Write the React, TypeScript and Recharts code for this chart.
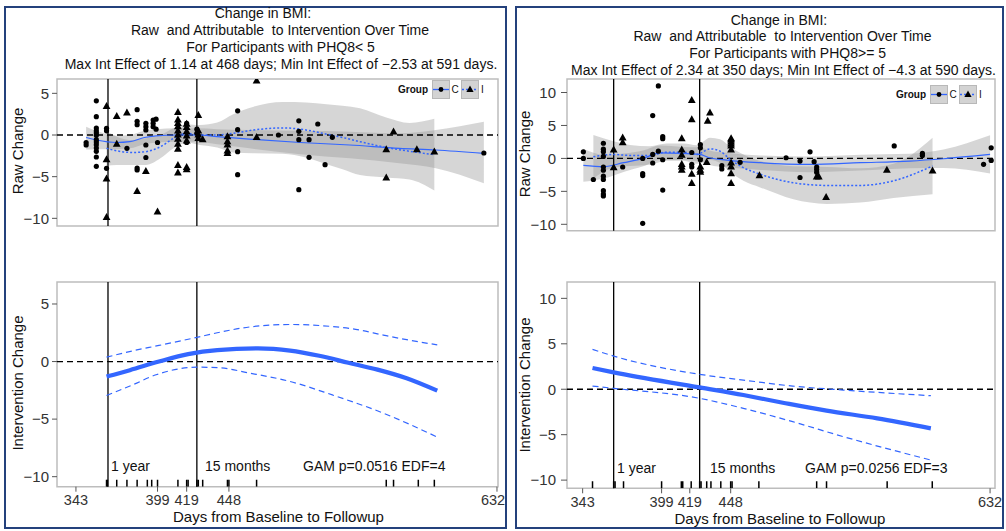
import React from 'react';
import { ComposedChart, Line, Area, Scatter, XAxis, YAxis, ReferenceLine, ReferenceArea } from 'recharts';

const FONT = '"Liberation Sans", Arial, Helvetica, sans-serif';
const BLUE = '#3366ff';
const NAVY = '#24417c';

// ---------------- Left panel: PHQ8 < 5 ----------------
const L_cPoints: [number, number][] = [
  [350, -0.9], [350, -1.2],
  [357, 4.1], [357, 2.2], [357, 0.84], [357, 0.5], [357, 0.24], [357, -0.04], [357, -0.56], [357, -0.84], [357, -1.16], [357, -1.56], [357, -1.96], [357, -2.64], [357, -3.76],
  [364, 0.8], [364, 0.5], [364, -4.0],
  [378, -1.6],
  [385, 3.04], [385, 1.64], [385, 1.24], [385, -3.96], [385, -4.2],
  [391, 1.4], [391, 1.0], [391, 0.6], [391, -1.2], [391, -2.7],
  [396, 1.8], [396, 1.4], [396, 1.0],
  [398, 1.9], [398, 0.7], [399, -0.9],
  [419, 1.4], [419, -0.9],
  [426, 0.7], [426, 0.2],
  [454, 2.9], [454, 0.64], [454, -2.0], [454, -4.76],
  [482, 0],
  [496, 1.7], [496, 0.44], [496, -0.56], [496, -6.56],
  [503, -0.56], [503, -2.68],
  [509, 1.32],
  [514, -3.56],
  [519, -0.28],
  [623, -2.16],
];
const L_iPoints: [number, number][] = [
  [364, 3.44], [364, -2.96], [364, -5.28], [364, -9.88],
  [371, 2.24], [371, -1.1],
  [378, 2.64],
  [385, -6.76],
  [391, -4.36],
  [399, -9.24],
  [413, 2.7], [413, 1.8], [413, 1.4], [413, 1.0], [413, 0.5], [413, 0], [413, -0.5], [413, -1.1], [413, -1.7], [413, -3.64], [413, -4.56],
  [419, 1.3], [419, 0.9], [419, 0.4], [419, -0.1], [419, -0.7], [419, -3.88], [419, -4.16],
  [427, 2.36], [427, 0.5], [427, 0], [427, -0.4],
  [430, -0.56],
  [447, -0.2], [447, -0.8], [447, -1.2], [447, -1.9], [447, -2.2],
  [467, 6.5], [467, -0.3],
  [556, -1.76], [556, -5.16],
  [561, 0.36],
  [577, -1.76],
  [589, -2.04],
];
const L_cLineDays = [350, 357, 371, 380, 390, 398, 412, 426, 440, 462, 497, 531, 565, 590, 623];
const L_cLineVals = [-0.3, -0.6, -0.9, -0.8, -0.3, -0.1, 0, 0, -0.2, -0.5, -0.9, -1.2, -1.6, -1.8, -2.2];
const L_cBandLo = [-1.75, -1.7, -1.7, -1.6, -1.1, -0.9, -0.8, -0.8, -1.1, -1.6, -2.3, -2.8, -3.4, -4.0, -5.8];
const L_cBandHi = [1.0, 0.5, -0.1, 0.0, 0.5, 0.7, 0.8, 0.8, 0.7, 0.6, 0.5, 0.4, 0.2, 0.6, 1.6];
const L_iLineDays = [364, 371, 382, 391, 401, 410, 419, 428, 440, 451, 465, 485, 501, 515, 526, 538, 556, 572, 589];
const L_iLineVals = [-1.6, -1.9, -2.1, -2.0, -1.4, -0.4, 0.2, 0.0, 0.0, 0.2, 0.6, 0.85, 0.6, 0.1, -0.3, -0.8, -1.5, -1.95, -2.36];
const L_iBandLo = [-3.7, -3.6, -3.6, -3.6, -2.8, -1.6, -0.9, -1.2, -1.5, -2.1, -2.2, -2.25, -2.7, -3.5, -4.1, -4.8, -5.1, -5.35, -6.66];
const L_iBandHi = [0.5, -0.2, -0.6, -0.4, 0.0, 0.8, 1.3, 1.2, 1.5, 2.5, 3.4, 3.95, 3.9, 3.7, 3.5, 3.2, 2.1, 1.45, 1.94];

const L_effDays = [364, 380, 400, 420, 440, 468, 490, 510, 530, 550, 570, 591];
const L_effVals = [-1.3, -0.75, 0.0, 0.65, 1.0, 1.14, 0.95, 0.5, -0.1, -0.7, -1.45, -2.53];
const L_upDays = [364, 382, 400, 426, 440, 462, 490, 519, 535, 554, 570, 591];
const L_upVals = [0.38, 0.93, 1.4, 2.1, 2.5, 3.0, 3.22, 3.04, 2.8, 2.3, 1.9, 1.45];
const L_loDays = [364, 382, 398, 426, 440, 462, 490, 519, 554, 591];
const L_loVals = [-2.95, -2.02, -1.15, -0.49, -0.52, -1.0, -1.73, -2.9, -4.48, -6.56];
const L_rug = [364, 364.6, 371, 378, 385, 392, 395, 399, 413, 419, 420, 426, 427, 430, 447, 448, 467, 556, 561, 578, 589];

// ---------------- Right panel: PHQ8 >= 5 ----------------
const R_cPoints: [number, number][] = [
  [343.5, 1.0], [343.5, 0],
  [350.6, -3.2],
  [357.7, 2.3], [357.7, 1.4], [357.7, 1.0], [357.7, 0.3], [357.7, -1.3], [357.7, -1.8], [357.7, -2.7], [357.7, -3.2], [357.7, -4.9], [357.7, -5.4], [357.7, -5.7],
  [371.4, -1.3],
  [385.6, 0], [385.6, -2.3], [385.6, -2.6], [385.6, -9.85],
  [392.7, 6.5], [392.7, 0.6], [392.7, -0.7],
  [396.7, 11.0], [396.7, 1.1],
  [399.8, 3.3], [399.8, 3.0], [399.8, -0.2], [399.8, -4.8],
  [420.4, 0.9], [420.4, -0.9], [420.4, -1.3],
  [426.5, 2.1], [426.5, 1.6], [426.5, -0.2],
  [441.7, -1.1], [441.7, -1.6],
  [454.7, -0.6],
  [487.3, 0.1],
  [497.2, -0.4], [497.2, -2.9],
  [504.3, 1.0],
  [507.2, -0.5],
  [509, -1.3], [509, -1.7], [509, -2.1],
  [564, 1.9],
  [584, 0.75], [584, 0.45],
  [627.4, -0.9],
  [632.8, 1.6], [632.8, -0.3],
];
const R_iPoints: [number, number][] = [
  [365, 1.3], [365, -1.4],
  [371.4, 3.1], [371.4, 2.4],
  [413.3, 3.0], [413.3, 1.3], [413.3, 0.5], [413.3, -0.9], [413.3, -1.3], [413.3, -1.8],
  [420.4, 8.8], [420.4, 5.9], [420.4, -2.4], [420.4, -3.8],
  [426.5, -1.3], [426.5, -1.8], [426.5, -2.1],
  [431.7, 5.65], [433.3, 6.9], [431, -0.6],
  [448.3, 3.0], [448.3, 2.8], [448.3, 2.5], [448.3, 2.2], [448.3, 1.9], [448.3, 1.3], [448.3, -0.7], [448.3, -1.3], [448.3, -2.3], [448.3, -3.8],
  [468.4, -2.6],
  [509, -2.8], [510.5, -2.8],
  [515.7, -5.9],
  [558.8, -1.8],
  [591.2, -1.9],
];
const R_cLineDays = [343.5, 358, 372, 386, 398, 414, 426, 433, 445, 469, 504, 540, 575, 599, 632];
const R_cLineVals = [-1.05, -1.25, -0.65, 0, 0.85, 0.75, 0.6, 0.1, -0.25, -0.65, -0.9, -0.65, -0.4, -0.05, 0.6];
const R_cBandLo = [-3.55, -3.05, -2.05, -1.2, -0.25, -0.25, -0.5, -1.0, -1.35, -1.75, -2.1, -1.85, -1.5, -1.45, -2.3];
const R_cBandHi = [1.45, 0.55, 0.75, 1.2, 1.95, 1.75, 1.7, 1.2, 0.85, 0.45, 0.3, 0.55, 0.7, 1.35, 3.5];
const R_iLineDays = [350.6, 364.8, 376.6, 390.8, 402.6, 414.4, 423.9, 433.4, 440.5, 447.6, 457, 468.9, 492.5, 516.2, 539.8, 563.5, 591.2];
const R_iLineVals = [0.25, 0.6, 0.45, 0.45, 0.95, 0.95, 0.6, 1.45, 1.1, -0.15, -1.4, -2.4, -3.7, -4.1, -4.1, -3.4, -1.15];
const R_iBandLo = [-3.05, -1.4, -1.15, -0.95, -0.35, -0.35, -0.8, -0.25, -0.7, -2.05, -3.4, -4.4, -6.2, -6.9, -6.7, -6.0, -5.45];
const R_iBandHi = [3.55, 2.6, 2.05, 1.85, 2.25, 2.25, 2.0, 3.15, 2.9, 1.75, 0.6, -0.4, -1.2, -1.3, -1.5, -0.8, 3.15];

const R_effDays = [350, 365, 426, 457, 485, 516, 552, 590];
const R_effVals = [2.34, 1.85, 0.2, -0.64, -1.48, -2.36, -3.2, -4.3];
const R_upDays = [350, 365, 426, 457, 492, 528, 590];
const R_upVals = [4.39, 3.65, 1.64, 1.01, 0.35, -0.09, -0.71];
const R_loDays = [350, 365, 426, 457, 492, 528, 590];
const R_loVals = [0.35, 0.1, -1.0, -2.1, -3.57, -5.22, -7.79];
const R_rug = [350, 365, 366, 372, 399, 413, 414, 420, 426, 427, 431, 434, 441, 448, 449, 468, 509, 516, 559, 591];

const xTicks = [343, 399, 419, 448, 632];
const yTicksL = [-10, -5, 0, 5];
const yTicksR = [-10, -5, 0, 5, 10];

// ---------------- helpers ----------------
type LineSpec = { key: string; days: number[]; vals: number[] };
type BandSpec = { key: string; days: number[]; lo: number[]; hi: number[] };

function buildRows(lines: LineSpec[], bands: BandSpec[]) {
  const map = new Map<number, any>();
  const get = (d: number) => {
    if (!map.has(d)) map.set(d, { day: d });
    return map.get(d);
  };
  lines.forEach((s) => s.days.forEach((d, i) => { get(d)[s.key] = s.vals[i]; }));
  bands.forEach((b) => b.days.forEach((d, i) => { get(d)[b.key] = [b.lo[i], b.hi[i]]; }));
  const rows = Array.from(map.values()).sort((a, b) => a.day - b.day);
  rows.forEach((r) => bands.forEach((b) => { if (!(b.key in r)) r[b.key] = [null, null]; }));
  return rows;
}

const L_topRows = buildRows(
  [{ key: 'cS', days: L_cLineDays, vals: L_cLineVals }, { key: 'iS', days: L_iLineDays, vals: L_iLineVals }],
  [{ key: 'cB', days: L_cLineDays, lo: L_cBandLo, hi: L_cBandHi }, { key: 'iB', days: L_iLineDays, lo: L_iBandLo, hi: L_iBandHi }],
);
const R_topRows = buildRows(
  [{ key: 'cS', days: R_cLineDays, vals: R_cLineVals }, { key: 'iS', days: R_iLineDays, vals: R_iLineVals }],
  [{ key: 'cB', days: R_cLineDays, lo: R_cBandLo, hi: R_cBandHi }, { key: 'iB', days: R_iLineDays, lo: R_iBandLo, hi: R_iBandHi }],
);
const L_botRows = buildRows(
  [{ key: 'eff', days: L_effDays, vals: L_effVals }, { key: 'up', days: L_upDays, vals: L_upVals }, { key: 'lo', days: L_loDays, vals: L_loVals }],
  [],
);
const R_botRows = buildRows(
  [{ key: 'eff', days: R_effDays, vals: R_effVals }, { key: 'up', days: R_upDays, vals: R_upVals }, { key: 'lo', days: R_loDays, vals: R_loVals }],
  [],
);

const fmt = (v: number) => (v < 0 ? `\u2212${Math.abs(v)}` : `${v}`);

const DotShape = (p: any) => <circle cx={p.cx} cy={p.cy} r={2.6} fill="#000" />;
const TriShape = (p: any) => (
  <polygon points={`${p.cx},${p.cy - 4.4} ${p.cx - 3.9},${p.cy + 2.6} ${p.cx + 3.9},${p.cy + 2.6}`} fill="#000" />
);
const RugShape = (p: any) => <line x1={p.cx} x2={p.cx} y1={p.cy} y2={p.cy - 7} stroke="#000" strokeWidth={1.5} />;

type PlotCfg = {
  left: number; top: number; width: number; height: number;
  margin: { top: number; right: number; bottom: number; left: number };
  xDomain: [number, number]; yDomain: [number, number]; yTicks: number[];
  tickSize: number; tickMargin: number; lastTickShift: number;
};

function Frame(c: PlotCfg) {
  return (
    <ReferenceArea x1={c.xDomain[0]} x2={c.xDomain[1]} y1={c.yDomain[0]} y2={c.yDomain[1]}
      fill="none" fillOpacity={0} stroke="#bdbdbd" strokeWidth={1.5} ifOverflow="visible" />
  );
}

function TopPlot({ c, rows, cPts, iPts }: { c: PlotCfg; rows: any[]; cPts: [number, number][]; iPts: [number, number][] }) {
  const cData = cPts.map(([day, v]) => ({ day, v }));
  const iData = iPts.map(([day, v]) => ({ day, v }));
  return (
    <div style={{ position: 'absolute', left: c.left, top: c.top }}>
      <ComposedChart width={c.width} height={c.height} data={rows} margin={c.margin}>
        <XAxis type="number" dataKey="day" domain={c.xDomain} allowDataOverflow hide />
        <YAxis type="number" domain={c.yDomain} ticks={c.yTicks} allowDataOverflow width={57} axisLine={false}
          tickSize={c.tickSize} tickMargin={c.tickMargin} tickLine={{ stroke: '#555' }} interval={0}
          tick={{ fontSize: 15, fill: '#333', fontFamily: FONT }} tickFormatter={fmt} />
        <Scatter data={cData} dataKey="v" shape={DotShape} isAnimationActive={false} />
        <Scatter data={iData} dataKey="v" shape={TriShape} isAnimationActive={false} />
        <Area dataKey="cB" type="monotone" fill="#999999" fillOpacity={0.4} stroke="none" connectNulls dot={false} activeDot={false} isAnimationActive={false} />
        <Area dataKey="iB" type="monotone" fill="#999999" fillOpacity={0.4} stroke="none" connectNulls dot={false} activeDot={false} isAnimationActive={false} />
        <ReferenceLine y={0} stroke="#000" strokeWidth={1.3} strokeDasharray="6 4" />
        <ReferenceLine x={365} stroke="#000" strokeWidth={1.3} />
        <ReferenceLine x={426} stroke="#000" strokeWidth={1.3} />
        <Line dataKey="cS" type="monotone" stroke={BLUE} strokeWidth={1.2} dot={false} activeDot={false} connectNulls isAnimationActive={false} />
        <Line dataKey="iS" type="monotone" stroke={BLUE} strokeWidth={1.5} strokeDasharray="2 2" dot={false} activeDot={false} connectNulls isAnimationActive={false} />
        {Frame(c)}
      </ComposedChart>
    </div>
  );
}

function BottomPlot({ c, rows, rug }: { c: PlotCfg; rows: any[]; rug: number[] }) {
  const rugData = rug.map((day) => ({ day, v: c.yDomain[0] }));
  const XTick = (p: any) => {
    const v = p.payload?.value;
    const shift = v === xTicks[xTicks.length - 1] ? c.lastTickShift : 0;
    return (
      <text x={p.x + shift} y={p.y} dy="0.71em" textAnchor="middle" fontSize={14.5} fill="#333" fontFamily={FONT}>{v}</text>
    );
  };
  return (
    <div style={{ position: 'absolute', left: c.left, top: c.top }}>
      <ComposedChart width={c.width} height={c.height} data={rows} margin={c.margin}>
        <XAxis type="number" dataKey="day" domain={c.xDomain} allowDataOverflow ticks={xTicks} interval={0}
          height={30} axisLine={false} tickSize={5} tickMargin={3} tickLine={{ stroke: '#555' }}
          tick={XTick} />
        <YAxis type="number" domain={c.yDomain} ticks={c.yTicks} allowDataOverflow width={57} axisLine={false}
          tickSize={c.tickSize} tickMargin={c.tickMargin} tickLine={{ stroke: '#555' }} interval={0}
          tick={{ fontSize: 15, fill: '#333', fontFamily: FONT }} tickFormatter={fmt} />
        <ReferenceLine y={0} stroke="#000" strokeWidth={1.3} strokeDasharray="6 4" />
        <ReferenceLine x={365} stroke="#000" strokeWidth={1.3} />
        <ReferenceLine x={426} stroke="#000" strokeWidth={1.3} />
        <Scatter data={rugData} dataKey="v" shape={RugShape} isAnimationActive={false} />
        <Line dataKey="up" type="monotone" stroke={BLUE} strokeWidth={1.2} strokeDasharray="6 4" dot={false} activeDot={false} connectNulls isAnimationActive={false} />
        <Line dataKey="lo" type="monotone" stroke={BLUE} strokeWidth={1.2} strokeDasharray="6 4" dot={false} activeDot={false} connectNulls isAnimationActive={false} />
        <Line dataKey="eff" type="monotone" stroke={BLUE} strokeWidth={4.2} dot={false} activeDot={false} connectNulls isAnimationActive={false} />
        {Frame(c)}
      </ComposedChart>
    </div>
  );
}

function T({ x, base, size = 14, anchor = 'start', bold = false, children }: any) {
  const tx = anchor === 'middle' ? '-50%' : anchor === 'end' ? '-100%' : '0';
  return (
    <div style={{
      position: 'absolute', left: x, top: base - 0.7465 * size, fontSize: size, lineHeight: `${0.8 * size}px`,
      whiteSpace: 'pre', transform: `translateX(${tx})`, fontWeight: bold ? 700 : 400, color: '#111',
    }}>{children}</div>
  );
}

function VT({ cx, cy, children }: any) {
  return (
    <div style={{
      position: 'absolute', left: cx, top: cy, fontSize: 15, lineHeight: '15px', whiteSpace: 'pre',
      transform: 'translate(-50%, -50%) rotate(-90deg)', color: '#111',
    }}>{children}</div>
  );
}

function LegendBox({ x, top, kind }: { x: number; top: number; kind: 'C' | 'I' }) {
  return (
    <svg style={{ position: 'absolute', left: x, top }} width={18} height={19}>
      <rect x={0.5} y={0.5} width={17} height={18} fill="#d3d3d3" stroke="#b8b8b8" />
      <line x1={1} x2={17} y1={9.5} y2={9.5} stroke={BLUE} strokeWidth={1.3} strokeDasharray={kind === 'I' ? '2 2' : undefined} />
      {kind === 'C'
        ? <circle cx={9} cy={9.5} r={2.4} fill="#000" />
        : <polygon points="9,5.5 5.4,12 12.6,12" fill="#000" />}
    </svg>
  );
}

function GroupLegend({ x, top }: { x: number; top: number }) {
  const base = top + 9.5 + 3.6;
  return (
    <>
      <T x={x} base={base} size={10} bold>Group</T>
      <LegendBox x={x + 34} top={top} kind="C" />
      <T x={x + 53.5} base={base} size={10}>C</T>
      <LegendBox x={x + 63} top={top} kind="I" />
      <T x={x + 83} base={base} size={10}>I</T>
    </>
  );
}

const LT: PlotCfg = { left: 0, top: 0, width: 506, height: 240, margin: { top: 79, right: 8, bottom: 14, left: 0 }, xDomain: [330, 632.7], yDomain: [-10.92, 6.72], yTicks: yTicksL, tickSize: 5, tickMargin: 3, lastTickShift: 0 };
const LB: PlotCfg = { left: 0, top: 240, width: 506, height: 291, margin: { top: 42, right: 8, bottom: 14.3, left: 0 }, xDomain: [330, 632.7], yDomain: [-10.87, 6.91], yTicks: yTicksL, tickSize: 5, tickMargin: 3, lastTickShift: -4 };
const RT: PlotCfg = { left: 510, top: 0, width: 496, height: 245, margin: { top: 79, right: 11, bottom: 14.3, left: 0 }, xDomain: [331.9, 635.5], yDomain: [-10.97, 12.05], yTicks: yTicksR, tickSize: 6, tickMargin: 5, lastTickShift: 0 };
const RB: PlotCfg = { left: 510, top: 240, width: 496, height: 291, margin: { top: 42, right: 11, bottom: 12.7, left: 0 }, xDomain: [331.9, 635.5], yDomain: [-10.9, 11.8], yTicks: yTicksR, tickSize: 6, tickMargin: 5, lastTickShift: 0 };

export default function App() {
  return (
    <div style={{ position: 'absolute', left: 0, top: 0, width: 1006, height: 531, background: '#fff', fontFamily: FONT, overflow: 'hidden' }}>
      {/* panel borders */}
      <div style={{ position: 'absolute', left: 4, top: 6, width: 499, height: 519, border: `2px solid ${NAVY}` }} />
      <div style={{ position: 'absolute', left: 515, top: 6, width: 485, height: 519, border: `2px solid ${NAVY}` }} />

      <TopPlot c={LT} rows={L_topRows} cPts={L_cPoints} iPts={L_iPoints} />
      <BottomPlot c={LB} rows={L_botRows} rug={L_rug} />
      <TopPlot c={RT} rows={R_topRows} cPts={R_cPoints} iPts={R_iPoints} />
      <BottomPlot c={RB} rows={R_botRows} rug={R_rug} />

      {/* Left titles */}
      <T x={263} base={18.3} anchor="middle">Change in BMI:</T>
      <T x={280} base={35.3} anchor="middle">Raw  and Attributable  to Intervention Over Time</T>
      <T x={280.5} base={52} anchor="middle">For Participants with PHQ8&lt; 5</T>
      <T x={281} base={69} anchor="middle">Max Int Effect of 1.14 at 468 days; Min Int Effect of {'\u2212'}2.53 at 591 days.</T>
      {/* Right titles */}
      <T x={779} base={25} anchor="middle">Change in BMI:</T>
      <T x={782.5} base={41.7} anchor="middle">Raw  and Attributable  to Intervention Over Time</T>
      <T x={787.6} base={58.3} anchor="middle">For Participants with PHQ8&gt;= 5</T>
      <T x={783.5} base={75} anchor="middle">Max Int Effect of 2.34 at 350 days; Min Int Effect of {'\u2212'}4.3 at 590 days.</T>

      {/* axis titles */}
      <VT cx={17} cy={151}>Raw Change</VT>
      <VT cx={17} cy={383}>Intervention Change</VT>
      <VT cx={524} cy={154}>Raw Change</VT>
      <VT cx={524} cy={385}>Intervention Change</VT>
      <T x={278.5} base={522.2} size={15} anchor="middle">Days from Baseline to Followup</T>
      <T x={780} base={523.8} size={15} anchor="middle">Days from Baseline to Followup</T>

      {/* annotations */}
      <T x={111} base={471.7}>1 year</T>
      <T x={205} base={471.7}>15 months</T>
      <T x={303} base={471.7}>GAM p=0.0516 EDF=4</T>
      <T x={617} base={473.3}>1 year</T>
      <T x={710} base={473.3}>15 months</T>
      <T x={805} base={473.3}>GAM p=0.0256 EDF=3</T>

      {/* legends */}
      <GroupLegend x={398} top={80} />
      <GroupLegend x={896} top={85} />
    </div>
  );
}
